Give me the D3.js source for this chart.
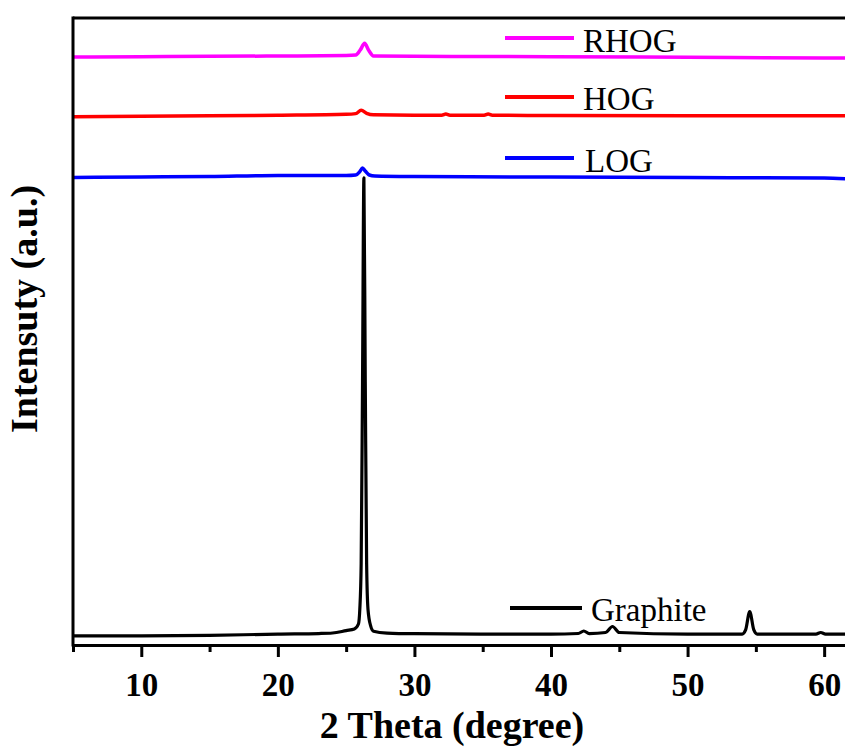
<!DOCTYPE html>
<html>
<head>
<meta charset="utf-8">
<script src="https://cdn.jsdelivr.net/npm/d3@7"></script>
<style>
  body { margin: 0; background: #fff; }
  #chart { width: 845px; height: 754px; }
</style>
</head>
<body>
<div id="chart"></div>
<script>
// XRD patterns, intensity in a.u. (stacked with offsets)
const xTicks = [10, 20, 30, 40, 50, 60];
const xMinorTicks = [5, 15, 25, 35, 45, 55];

const graphiteTheta = [5, 10, 15, 20, 23, 24, 25, 25.6, 25.9, 26.0, 26.1, 26.2, 26.3, 26.4, 26.5, 26.6, 26.8, 27.0, 28, 30,
    35, 40, 42, 42.4, 42.8, 44.0, 44.5, 45.0, 50, 54.0, 54.25, 54.55, 54.85, 55.1, 59.4, 59.75, 60.1, 61.6];
const graphiteI = [14.4, 14.4, 15.2, 17.5, 18.3, 19.1, 23, 25.5, 33.5, 57, 130, 420, 745, 420, 130, 57, 30, 22, 19, 18,
    17.5, 17.5, 18.3, 22.3, 18.3, 19.9, 29.5, 19.9, 17.5, 17.5, 24, 53.4, 24, 17.5, 17.5, 19.9, 17.5, 17.5];

const logTheta = [5, 10, 15, 20, 25, 25.7, 26.0, 26.2, 26.4, 26.7, 27.1, 30, 40, 50, 60, 61.6];
const logI = [745.6, 746.4, 747.2, 748.8, 748.8, 749.6, 755, 760.8, 756, 749.6, 748, 747.2, 746.4, 745.6, 744.8, 743.5];

const hogTheta = [5, 10, 15, 20, 25, 25.7, 26.1, 26.5, 27.0, 30, 32.0, 32.3, 32.6, 35.1, 35.4, 35.7, 40, 50, 60, 61.6];
const hogI = [842.6, 843.2, 844, 845, 846.4, 847.5, 852.8, 848, 845.6, 845, 845, 846.8, 845, 845, 846.8, 845, 844.5, 844.2, 844.2, 844];

const rhogTheta = [5, 10, 15, 20, 25, 25.7, 26.05, 26.35, 26.65, 27.0, 30, 40, 50, 60, 61.6];
const rhogI = [937.8, 938.3, 938.8, 939.4, 940.2, 941, 949.5, 959.6, 948.5, 939.4, 938.8, 938.3, 937.3, 936.3, 936];

const seriesNames = ["Graphite", "LOG", "HOG", "RHOG"];
const seriesColors = ["#000000", "#0000ff", "#ff0000", "#ff00ff"];

const serif = "Liberation Serif, Times New Roman, Times, Nimbus Roman, FreeSerif, DejaVu Serif, Noto Serif, serif";

// Set the dimensions of the plot area
const W = 845, H = 754;
const plotLeft = 73, plotTop = 18, plotBottom = 645;

const svg = d3.select("#chart")
    .append("svg")
    .attr("width", W)
    .attr("height", H)
    .attr("font-family", serif);

// Scales
const xScale = d3.scaleLinear().domain([5, 61.6]).range([plotLeft, 846]);
const yScale = d3.scaleLinear().domain([0, 1000]).range([plotBottom, plotTop]);

// Build the series
const series = [
    { name: "Graphite", theta: graphiteTheta, values: graphiteI },
    { name: "LOG", theta: logTheta, values: logI },
    { name: "HOG", theta: hogTheta, values: hogI },
    { name: "RHOG", theta: rhogTheta, values: rhogI }
].map(s => ({
    name: s.name,
    color: seriesColors[seriesNames.indexOf(s.name)],
    points: s.theta.map((t, i) => ({ x: t, y: s.values[i] }))
}));

const line = d3.line()
    .x(d => xScale(d.x))
    .y(d => yScale(d.y))
    .curve(d3.curveMonotoneX);

svg.append("clipPath").attr("id", "clip")
    .append("rect")
    .attr("x", plotLeft).attr("y", plotTop)
    .attr("width", W - plotLeft).attr("height", plotBottom - plotTop);

const g = svg.append("g").attr("clip-path", "url(#clip)");

series.forEach(s => {
    g.append("path")
        .datum(s.points)
        .attr("fill", "none")
        .attr("stroke", s.color)
        .attr("stroke-width", s.name === "Graphite" ? 3.2 : 3.5)
        .attr("stroke-linejoin", "round")
        .attr("d", line);
});

// Frame: top border
svg.append("line")
    .attr("x1", plotLeft).attr("x2", W)
    .attr("y1", plotTop).attr("y2", plotTop)
    .attr("stroke", "#000").attr("stroke-width", 3);

// Left axis (no ticks)
svg.append("line")
    .attr("x1", plotLeft).attr("x2", plotLeft)
    .attr("y1", plotTop - 1.5).attr("y2", plotBottom + 1.5)
    .attr("stroke", "#000").attr("stroke-width", 3);

// Minor ticks on the x axis
svg.append("g")
    .attr("transform", "translate(0," + plotBottom + ")")
    .call(d3.axisBottom(xScale).tickValues(xMinorTicks).tickSize(7).tickFormat(""))
    .call(a => a.select(".domain").remove())
    .call(a => a.selectAll(".tick line").attr("stroke-width", 3));

// Major ticks and labels on the x axis
const xAxis = svg.append("g")
    .attr("transform", "translate(0," + plotBottom + ")")
    .call(d3.axisBottom(xScale).tickValues(xTicks).tickSize(12).tickSizeOuter(0))
    .attr("font-family", serif)
    .attr("font-size", 33)
    .attr("font-weight", "bold");

xAxis.select(".domain").attr("stroke-width", 3);
xAxis.selectAll(".tick line").attr("stroke-width", 3);
xAxis.selectAll(".tick text")
    .attr("y", 51)
    .attr("dy", 0)
    .attr("fill", "#000");

// Axis titles
svg.append("text")
    .attr("x", 452)
    .attr("y", 738)
    .attr("text-anchor", "middle")
    .attr("font-size", 38)
    .attr("font-weight", "bold")
    .text("2 Theta (degree)");

svg.append("text")
    .attr("transform", "translate(37,309) rotate(-90)")
    .attr("text-anchor", "middle")
    .attr("font-size", 38)
    .attr("font-weight", "bold")
    .text("Intensuty (a.u.)");

// Legend entries placed next to each curve
const legendPos = [
    { name: "RHOG", x1: 505, x2: 574, y: 38, tx: 583, ty: 52 },
    { name: "HOG", x1: 505, x2: 574, y: 97, tx: 583, ty: 110 },
    { name: "LOG", x1: 505, x2: 574, y: 158, tx: 585, ty: 172 },
    { name: "Graphite", x1: 510, x2: 582, y: 608, tx: 591, ty: 621 }
];

legendPos.forEach(p => {
    const color = seriesColors[seriesNames.indexOf(p.name)];
    svg.append("line")
        .attr("x1", p.x1).attr("x2", p.x2)
        .attr("y1", p.y).attr("y2", p.y)
        .attr("stroke", color).attr("stroke-width", 4);
    svg.append("text")
        .attr("x", p.tx)
        .attr("y", p.ty)
        .attr("font-size", 33)
        .text(p.name);
});
</script>
</body>
</html>
